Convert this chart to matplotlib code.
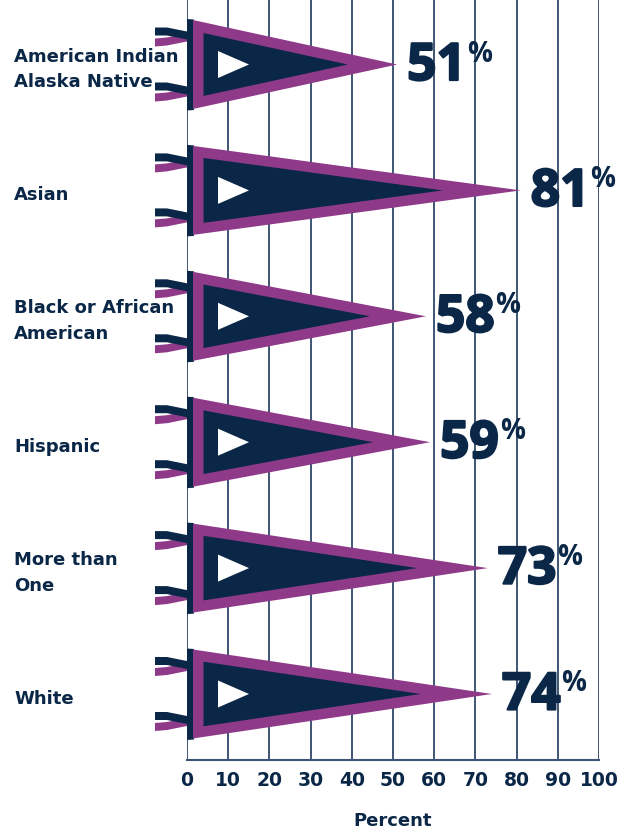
import numpy as np
import matplotlib
matplotlib.use("Agg")
import matplotlib.pyplot as plt
import matplotlib.patheffects as pe
from matplotlib.patches import Polygon

categories = ["American Indian\nAlaska Native", "Asian", "Black or African\nAmerican",
              "Hispanic", "More than\nOne", "White"]
values = [51, 81, 58, 59, 73, 74]
xticks = [0, 10, 20, 30, 40, 50, 60, 70, 80, 90, 100]
xlabel = "Percent"

NAVY = "#0b2747"
PURPLE = "#8f3a89"
GRID = "#3d5574"
LABEL_FONT = ["DejaVu Sans"]
VALUE_FONT = ["Open Sans", "DejaVu Sans"]

fig = plt.figure(figsize=(6.37, 8.36), dpi=100)
W, H = 637, 836
# axes spans pixel columns 187..599 and rows 0..760 (from the top)
ax = fig.add_axes([187 / W, (H - 760) / H, 412 / W, 760 / H])
ax.set_xlim(0, 100)
pitch = 125.9
ax.set_ylim((760 - 64.5) / pitch, -64.5 / pitch)

for s in ["top", "right", "left"]:
    ax.spines[s].set_visible(False)
ax.spines["bottom"].set_color(GRID)
ax.spines["bottom"].set_linewidth(1.5)
ax.set_yticks([])
ax.set_xticks(xticks)
ax.tick_params(axis="x", length=0, pad=8, colors=NAVY, labelsize=13.5)
for lab in ax.get_xticklabels():
    lab.set_fontweight("bold")
    lab.set_family(LABEL_FONT)
for t in xticks:
    ax.axvline(t, color=GRID, lw=1.4, zorder=0)

ax.set_xlabel(xlabel, fontsize=13, fontweight="bold", color=NAVY, family=LABEL_FONT,
              labelpad=16)

fig.canvas.draw()
renderer = fig.canvas.get_renderer()
to_disp = ax.transData
to_data = ax.transData.inverted()


def pts(x, y, offsets):
    """Data anchor plus pixel offsets (dx right, dy down) -> data coords."""
    bx, by = to_disp.transform((x, y))
    out = [(bx + dx, by - dy) for dx, dy in offsets]
    return to_data.transform(out)


def inset_triangle(p0, p1, p2, d):
    """Shrink a triangle (pixel coords) by distance d on every side."""
    P = np.array([p0, p1, p2], float)
    a = np.linalg.norm(P[1] - P[2])
    b = np.linalg.norm(P[0] - P[2])
    c = np.linalg.norm(P[0] - P[1])
    per = a + b + c
    inc = (a * P[0] + b * P[1] + c * P[2]) / per
    v1, v2 = P[1] - P[0], P[2] - P[0]
    area = abs(v1[0] * v2[1] - v1[1] * v2[0]) / 2
    r = 2 * area / per
    k = (r - d) / r
    return inc + (P - inc) * k


upper_navy = [(-32, -37), (-20, -37), (-10, -35), (0, -33), (0, -25), (-10, -27), (-20, -29), (-32, -29)]
upper_purple = [(-32, -26), (-20, -27), (-10, -29), (0, -31), (0, -23), (-10, -21), (-20, -19), (-32, -18)]


def add_shape(offsets, i, color, z):
    ax.add_patch(Polygon(pts(0, i, offsets), closed=True, fc=color, ec="none",
                         zorder=z, clip_on=False))


heavy = [pe.withStroke(linewidth=1.6, foreground=NAVY)]

for i, v in enumerate(values):
    tip_px = to_disp.transform((v, i))[0] - to_disp.transform((0, i))[0]
    # streamers
    for shift in (0, 55):
        add_shape([(dx, dy + shift) for dx, dy in upper_purple], i, PURPLE, 2)
        add_shape([(dx, dy + shift) for dx, dy in upper_navy], i, NAVY, 2)
    # pole
    add_shape([(0, -45.5), (7, -45), (7, 45.5), (0, 46)], i, NAVY, 3)
    # outer purple pennant and inner navy field
    outer = [(6, -44.5), (tip_px, 0), (6, 44.5)]
    add_shape(outer, i, PURPLE, 3)
    add_shape(inset_triangle(*outer, 10.5), i, NAVY, 4)
    # white arrow
    add_shape([(31, -13.5), (62, 0), (31, 13.5)], i, "white", 5)
    # value label with a raised percent sign
    num = ax.annotate(f"{v}", xy=(v, i), xytext=(10, -15.5), textcoords="offset pixels",
                      ha="left", va="baseline", fontsize=37, fontweight="bold",
                      color=NAVY, family=VALUE_FONT, zorder=6, path_effects=heavy)
    x_right = num.get_window_extent(renderer).x1
    x_anchor = to_disp.transform((v, i))[0]
    ax.annotate("%", xy=(v, i), xytext=(x_right - x_anchor + 1, 3), textcoords="offset pixels",
                ha="left", va="baseline", fontsize=20, fontweight="bold", color=NAVY,
                family=VALUE_FONT, zorder=6)
    # category label
    ax.annotate(categories[i], xy=(14, i), xycoords=("figure pixels", "data"),
                xytext=(0, -5), textcoords="offset pixels", ha="left", va="center",
                fontsize=13, fontweight="bold", color=NAVY, family=LABEL_FONT,
                linespacing=1.55, annotation_clip=False)

fig.savefig("out.png", dpi=100)
